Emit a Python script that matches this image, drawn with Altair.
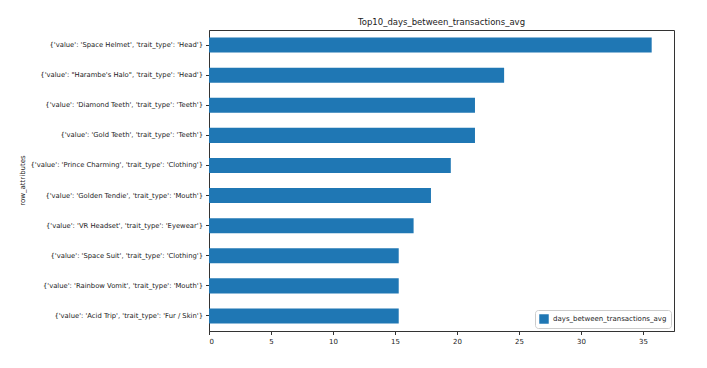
import altair as alt
import pandas as pd

labels = [
    "{'value': 'Space Helmet', 'trait_type': 'Head'}",
    "{'value': \"Harambe's Halo\", 'trait_type': 'Head'}",
    "{'value': 'Diamond Teeth', 'trait_type': 'Teeth'}",
    "{'value': 'Gold Teeth', 'trait_type': 'Teeth'}",
    "{'value': 'Prince Charming', 'trait_type': 'Clothing'}",
    "{'value': 'Golden Tendie', 'trait_type': 'Mouth'}",
    "{'value': 'VR Headset', 'trait_type': 'Eyewear'}",
    "{'value': 'Space Suit', 'trait_type': 'Clothing'}",
    "{'value': 'Rainbow Vomit', 'trait_type': 'Mouth'}",
    "{'value': 'Acid Trip', 'trait_type': 'Fur / Skin'}",
]
values = [35.7, 23.8, 21.45, 21.45, 19.5, 17.9, 16.5, 15.3, 15.3, 15.3]
series_name = "days_between_transactions_avg"
x_ticks = [0, 5, 10, 15, 20, 25, 30, 35]

df = pd.DataFrame({"row_attributes": labels, "value": values, "series": series_name})

font = "DejaVu Sans"

chart = alt.Chart(df).mark_bar(color="#1f77b4").encode(
    y=alt.Y("row_attributes:N", sort=labels,
            scale=alt.Scale(paddingInner=0.5, paddingOuter=0.25),
            axis=alt.Axis(title="row_attributes", labelFontSize=6.8, labelColor="#222",
                          titleFontSize=7, titleFontWeight="normal", titleColor="#222",
                          titleX=-187, titleY=150, titleAngle=270, titleAlign="center",
                          titleBaseline="middle",
                          labelPadding=3, tickSize=3.5, tickColor="#333",
                          domainColor="#333", labelLimit=250, grid=False)),
    x=alt.X("value:Q", scale=alt.Scale(domain=[0, 37.5], nice=False, zero=True),
            axis=alt.Axis(title=None, values=x_ticks, format="d", labelFontSize=7,
                          labelColor="#222", tickSize=3.5, tickColor="#333",
                          domainColor="#333", grid=False, labelPadding=3)),
    color=alt.Color("series:N", scale=alt.Scale(range=["#1f77b4"]),
                    legend=alt.Legend(title=None, orient="bottom-right", symbolType="square",
                                      symbolSize=90, labelFontSize=7, labelColor="#222",
                                      fillColor="white", strokeColor="#cccccc", padding=4,
                                      cornerRadius=3, offset=3, symbolStrokeWidth=0)),
).properties(
    width=465, height=301,
    title=alt.TitleParams("Top10_days_between_transactions_avg", fontSize=8.5, font=font,
                          fontWeight="normal", color="#222", offset=4),
    padding={"left": 209, "top": 30, "right": 33, "bottom": 37},
    autosize=alt.AutoSizeParams(type="none"),
).configure(font=font).configure_view(stroke="#333", strokeWidth=1).configure_axis(labelFont=font, titleFont=font).configure_legend(labelFont=font)

chart.save("out.html", embed_options={"renderer": "svg", "actions": False})
